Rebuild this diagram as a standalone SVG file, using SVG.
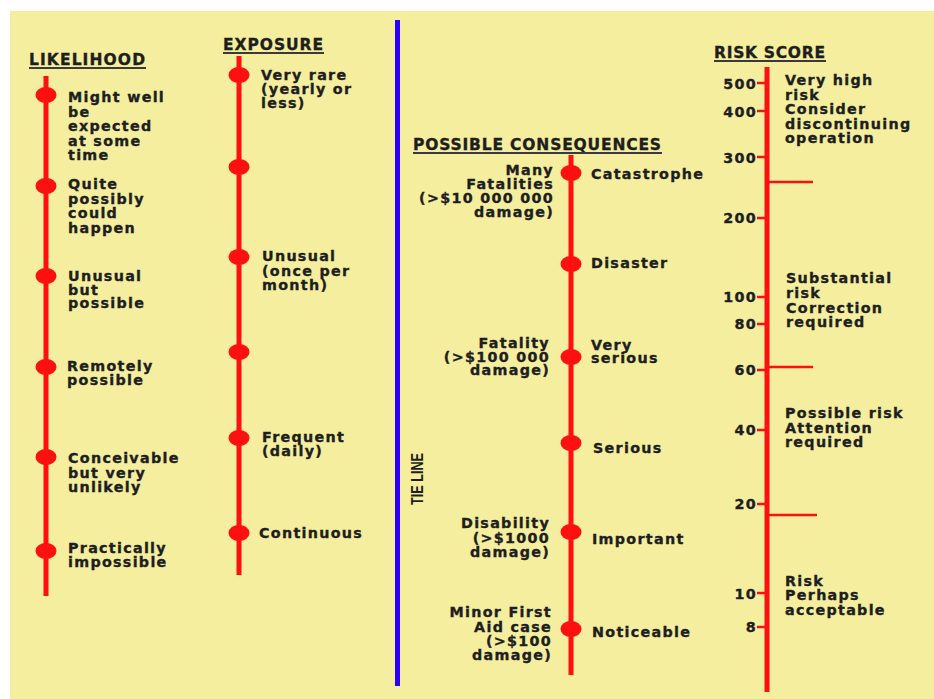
<svg xmlns="http://www.w3.org/2000/svg" width="934" height="699" viewBox="0 0 934 699">
<style>
.t{font-family:"DejaVu Sans","Liberation Sans",sans-serif;font-weight:bold;font-size:14.3px;letter-spacing:1.3px;fill:#1e1e1e;stroke:#1e1e1e;stroke-width:0.35px}
.e{text-anchor:end}
.h{font-size:15.5px;letter-spacing:0}
.ax{stroke:#ff1010;stroke-width:5;fill:none}
.tk{stroke:#ff1010;stroke-width:2.5}
.ul{stroke:#3a3a3a;stroke-width:2}
.dot{fill:#ff1010}
</style>
<!-- page and panel -->
<rect width="934" height="699" fill="#ffffff"/>
<rect x="10" y="11" width="924" height="688" fill="#f4ee9e"/>

<!-- scale axes -->
<g id="connectors">
  <line class="ax" x1="46" y1="76" x2="46" y2="596"/>
  <line class="ax" x1="239" y1="56" x2="239" y2="575"/>
  <line x1="397.5" y1="20" x2="397.5" y2="686" stroke="#2a00ff" stroke-width="5"/>
  <line class="ax" x1="571" y1="155" x2="571" y2="675"/>
  <line class="ax" x1="767" y1="67" x2="767" y2="692"/>
</g>

<!-- column titles -->
<g id="titles">
  <text class="t h" x="29" y="65" textLength="116">LIKELIHOOD</text>
  <line class="ul" x1="29" y1="68" x2="146" y2="68"/>
  <text class="t h" x="223" y="50" textLength="100">EXPOSURE</text>
  <line class="ul" x1="223" y1="53" x2="324" y2="53"/>
  <text class="t h" x="413" y="150" textLength="248">POSSIBLE CONSEQUENCES</text>
  <line class="ul" x1="413" y1="153" x2="662" y2="153"/>
  <text class="t h" x="714" y="58" textLength="111">RISK SCORE</text>
  <line class="ul" x1="714" y1="61" x2="826" y2="61"/>
</g>

<!-- likelihood scale -->
<g id="likelihood-1">
  <ellipse class="dot" cx="46" cy="95" rx="10.5" ry="8"/>
  <text class="t" x="68" y="102">Might well</text>
  <text class="t" x="68" y="116.5">be</text>
  <text class="t" x="68" y="131">expected</text>
  <text class="t" x="68" y="145.5">at some</text>
  <text class="t" x="68" y="160">time</text>
</g>
<g id="likelihood-2">
  <ellipse class="dot" cx="46" cy="186" rx="10.5" ry="8"/>
  <text class="t" x="68" y="189">Quite</text>
  <text class="t" x="68" y="203.5">possibly</text>
  <text class="t" x="68" y="218">could</text>
  <text class="t" x="68" y="232.5">happen</text>
</g>
<g id="likelihood-3">
  <ellipse class="dot" cx="46" cy="276" rx="10.5" ry="8"/>
  <text class="t" x="68" y="281">Unusual</text>
  <text class="t" x="68" y="294.5">but</text>
  <text class="t" x="68" y="308">possible</text>
</g>
<g id="likelihood-4">
  <ellipse class="dot" cx="46" cy="367" rx="10.5" ry="8"/>
  <text class="t" x="67" y="371">Remotely</text>
  <text class="t" x="67" y="384.5">possible</text>
</g>
<g id="likelihood-5">
  <ellipse class="dot" cx="46" cy="457" rx="10.5" ry="8"/>
  <text class="t" x="68" y="463">Conceivable</text>
  <text class="t" x="68" y="477.5">but very</text>
  <text class="t" x="68" y="492">unlikely</text>
</g>
<g id="likelihood-6">
  <ellipse class="dot" cx="46" cy="551" rx="10.5" ry="8"/>
  <text class="t" x="68" y="553">Practically</text>
  <text class="t" x="68" y="567">impossible</text>
</g>

<!-- exposure scale -->
<g id="exposure-1">
  <ellipse class="dot" cx="239" cy="75" rx="10.5" ry="8"/>
  <text class="t" x="261" y="80">Very rare</text>
  <text class="t" x="261" y="94">(yearly or</text>
  <text class="t" x="261" y="108">less)</text>
</g>
<g id="exposure-2">
  <ellipse class="dot" cx="239" cy="167" rx="10.5" ry="8"/>
</g>
<g id="exposure-3">
  <ellipse class="dot" cx="239" cy="257" rx="10.5" ry="8"/>
  <text class="t" x="262" y="261">Unusual</text>
  <text class="t" x="262" y="276">(once per</text>
  <text class="t" x="262" y="290">month)</text>
</g>
<g id="exposure-4">
  <ellipse class="dot" cx="239" cy="352" rx="10.5" ry="8"/>
</g>
<g id="exposure-5">
  <ellipse class="dot" cx="239" cy="438" rx="10.5" ry="8"/>
  <text class="t" x="262" y="442">Frequent</text>
  <text class="t" x="262" y="455.5">(daily)</text>
</g>
<g id="exposure-6">
  <ellipse class="dot" cx="239" cy="533" rx="10.5" ry="8"/>
  <text class="t" x="259" y="538">Continuous</text>
</g>

<!-- tie line label -->
<g id="tie-line">
  <text transform="translate(423,479) rotate(-90)" text-anchor="middle" textLength="52" lengthAdjust="spacingAndGlyphs" font-family="'Liberation Sans',sans-serif" font-weight="bold" font-size="17" fill="#1e1e1e">TIE LINE</text>
</g>

<!-- consequences scale -->
<g id="consequence-1">
  <ellipse class="dot" cx="571" cy="173" rx="10.5" ry="8"/>
  <text class="t" x="591" y="179">Catastrophe</text>
  <text class="t e" x="554" y="175">Many</text>
  <text class="t e" x="554" y="189">Fatalities</text>
  <text class="t e" x="554" y="203">(&gt;$10 000 000</text>
  <text class="t e" x="554" y="217">damage)</text>
</g>
<g id="consequence-2">
  <ellipse class="dot" cx="571" cy="264" rx="10.5" ry="8"/>
  <text class="t" x="591" y="268">Disaster</text>
</g>
<g id="consequence-3">
  <ellipse class="dot" cx="571" cy="357" rx="10.5" ry="8"/>
  <text class="t" x="591" y="350">Very</text>
  <text class="t" x="591" y="363">serious</text>
  <text class="t e" x="550" y="348">Fatality</text>
  <text class="t e" x="550" y="362">(&gt;$100 000</text>
  <text class="t e" x="550" y="375">damage)</text>
</g>
<g id="consequence-4">
  <ellipse class="dot" cx="571" cy="443" rx="10.5" ry="8"/>
  <text class="t" x="593" y="453">Serious</text>
</g>
<g id="consequence-5">
  <ellipse class="dot" cx="571" cy="532" rx="10.5" ry="8"/>
  <text class="t" x="592" y="544">Important</text>
  <text class="t e" x="550" y="528">Disability</text>
  <text class="t e" x="550" y="543">(&gt;$1000</text>
  <text class="t e" x="550" y="557">damage)</text>
</g>
<g id="consequence-6">
  <ellipse class="dot" cx="571" cy="629" rx="10.5" ry="8"/>
  <text class="t" x="592" y="637">Noticeable</text>
  <text class="t e" x="552" y="617">Minor First</text>
  <text class="t e" x="552" y="632">Aid case</text>
  <text class="t e" x="552" y="646">(&gt;$100</text>
  <text class="t e" x="552" y="660">damage)</text>
</g>

<!-- risk score scale: value ticks -->
<g id="risk-ticks">
  <line class="tk" x1="757" y1="83" x2="767" y2="83"/>
  <line class="tk" x1="757" y1="111" x2="767" y2="111"/>
  <line class="tk" x1="757" y1="157" x2="767" y2="157"/>
  <line class="tk" x1="757" y1="218" x2="767" y2="218"/>
  <line class="tk" x1="757" y1="297" x2="767" y2="297"/>
  <line class="tk" x1="757" y1="324" x2="767" y2="324"/>
  <line class="tk" x1="757" y1="370" x2="767" y2="370"/>
  <line class="tk" x1="757" y1="430" x2="767" y2="430"/>
  <line class="tk" x1="757" y1="504" x2="767" y2="504"/>
  <line class="tk" x1="757" y1="593" x2="767" y2="593"/>
  <line class="tk" x1="757" y1="627" x2="767" y2="627"/>
  <text class="t e" x="757" y="89">500</text>
  <text class="t e" x="757" y="117">400</text>
  <text class="t e" x="757" y="163">300</text>
  <text class="t e" x="757" y="223">200</text>
  <text class="t e" x="757" y="302">100</text>
  <text class="t e" x="757" y="329">80</text>
  <text class="t e" x="757" y="375">60</text>
  <text class="t e" x="757" y="435">40</text>
  <text class="t e" x="757" y="509">20</text>
  <text class="t e" x="757" y="599">10</text>
  <text class="t e" x="757" y="632">8</text>
</g>
<!-- risk band dividers -->
<g id="risk-dividers">
  <line class="tk" x1="767" y1="182" x2="813" y2="182"/>
  <line class="tk" x1="767" y1="367" x2="813" y2="367"/>
  <line class="tk" x1="767" y1="515" x2="817" y2="515"/>
</g>
<g id="risk-band-1">
  <text class="t" x="785" y="85">Very high</text>
  <text class="t" x="785" y="99.5">risk</text>
  <text class="t" x="785" y="114">Consider</text>
  <text class="t" x="785" y="128.5">discontinuing</text>
  <text class="t" x="785" y="143">operation</text>
</g>
<g id="risk-band-2">
  <text class="t" x="786" y="283">Substantial</text>
  <text class="t" x="786" y="298">risk</text>
  <text class="t" x="786" y="313">Correction</text>
  <text class="t" x="786" y="327">required</text>
</g>
<g id="risk-band-3">
  <text class="t" x="785" y="418">Possible risk</text>
  <text class="t" x="785" y="433">Attention</text>
  <text class="t" x="785" y="447">required</text>
</g>
<g id="risk-band-4">
  <text class="t" x="785" y="586">Risk</text>
  <text class="t" x="785" y="600">Perhaps</text>
  <text class="t" x="785" y="615">acceptable</text>
</g>
</svg>
